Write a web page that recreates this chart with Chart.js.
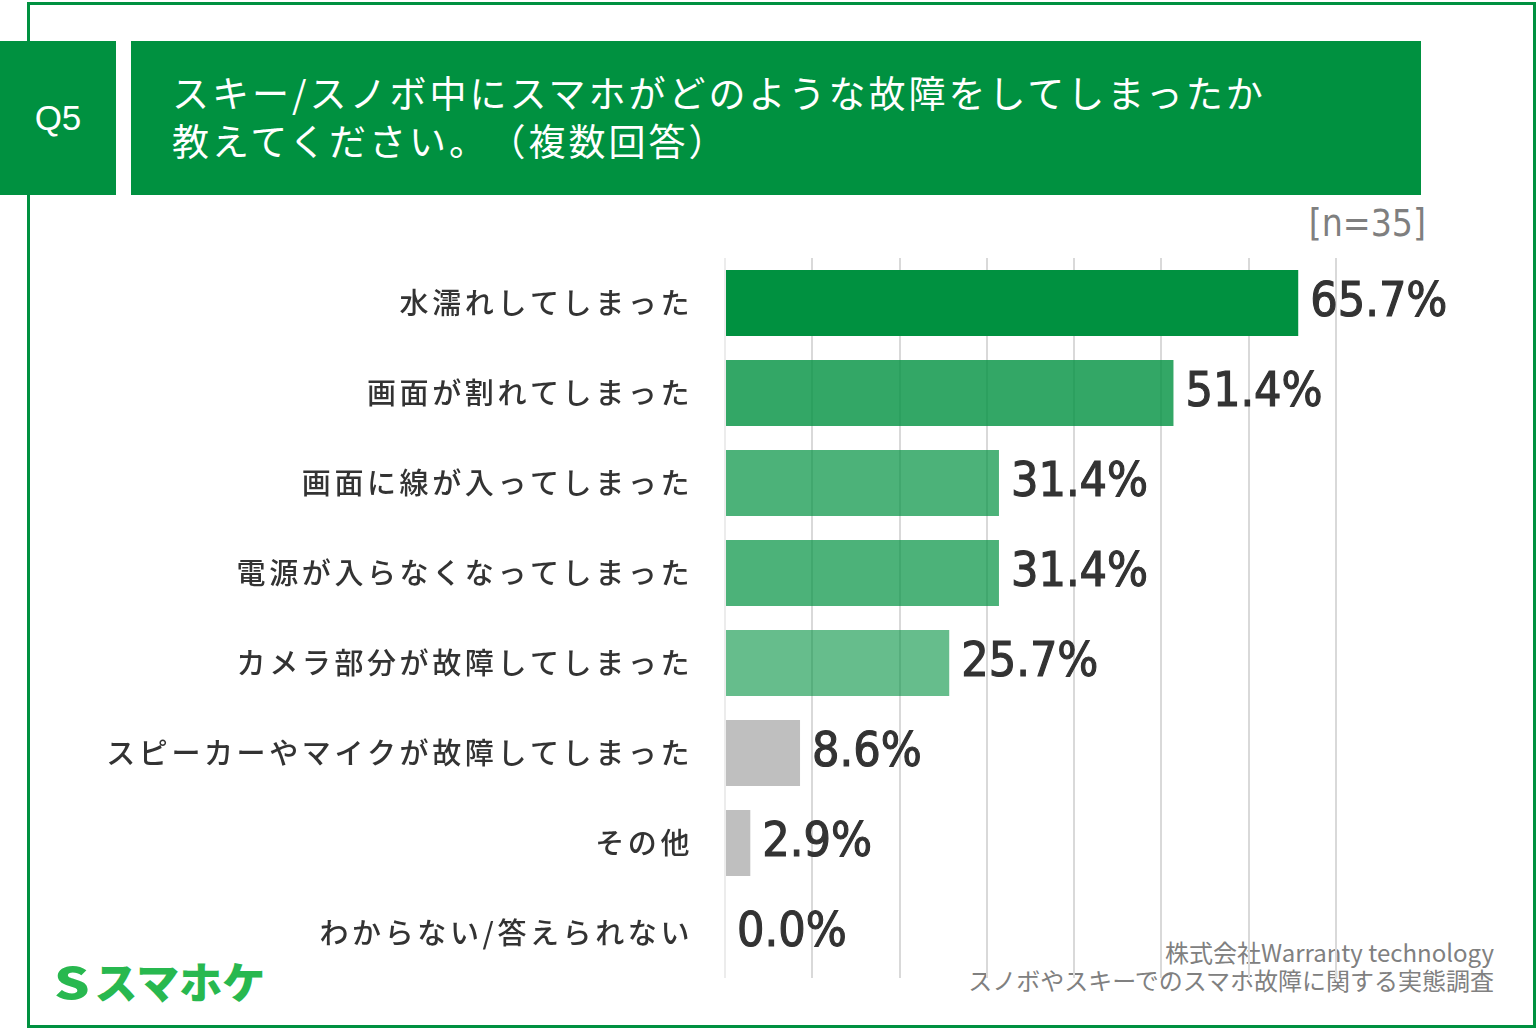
<!DOCTYPE html>
<html lang="ja">
<head>
<meta charset="utf-8">
<script src="https://cdn.jsdelivr.net/npm/chart.js@4"></script>
<style>
  html, body { margin: 0; padding: 0; background: #fff; }
  body { width: 1538px; height: 1030px; position: relative; overflow: hidden; font-family: "Noto Sans CJK JP", sans-serif; }
  #frame { position: absolute; left: 27px; top: 2px; width: 1509px; height: 1026px; box-sizing: border-box; border: 3px solid #009140; }
  #q { position: absolute; left: 0; top: 41px; width: 116px; height: 154px; background: #009140; color: #fff;
       font: 35px "Liberation Sans", Arial, sans-serif; display: flex; align-items: center; justify-content: center; }
  #title { position: absolute; left: 131px; top: 41px; width: 1290px; height: 154px; background: #009140; }
  #title div { position: absolute; left: 41px; color: #fff; font-size: 37px; letter-spacing: 3px; line-height: 48px; white-space: nowrap; }
  #n { position: absolute; right: 112px; top: 198px; color: #7f7f7f; font: 37px "DejaVu Sans Condensed", sans-serif; line-height: 52px; }
  #src { position: absolute; right: 44px; top: 938px; color: #808080; font-size: 24px; line-height: 28px; text-align: right; white-space: nowrap; }
  #logo { position: absolute; left: 54px; top: 950px; color: #28b84f; font-size: 43px; font-weight: 900; line-height: 60px; white-space: nowrap; }
  #logo span { display: inline-block; transform: scaleX(1.3); transform-origin: left center; margin-right: 13px; }
  canvas { position: absolute; left: 0; top: 0; }
</style>
</head>
<body>
<div id="frame"></div>
<div id="q">Q5</div>
<div id="title">
  <div style="top:27px">スキー/スノボ中にスマホがどのような故障をしてしまったか</div>
  <div style="top:75px">教えてください。<span style="margin-left:18px">（複数回答）</span></div>
</div>
<div id="n">[n=35]</div>
<div id="src">株式会社Warranty technology<br>スノボやスキーでのスマホ故障に関する実態調査</div>
<div id="logo"><span>S</span>スマホケ</div>
<canvas id="c" width="1538" height="1030" style="width:1538px;height:1030px"></canvas>
<script>
const categories = [
  '水濡れしてしまった',
  '画面が割れてしまった',
  '画面に線が入ってしまった',
  '電源が入らなくなってしまった',
  'カメラ部分が故障してしまった',
  'スピーカーやマイクが故障してしまった',
  'その他',
  'わからない/答えられない'
];
const values = [65.7, 51.4, 31.4, 31.4, 25.7, 8.6, 2.9, 0.0];
const barColors = [
  '#009140',
  'rgba(0,145,64,0.8)',
  'rgba(0,145,64,0.7)',
  'rgba(0,145,64,0.7)',
  'rgba(0,145,64,0.6)',
  '#bfbfbf',
  '#bfbfbf',
  '#bfbfbf'
];

// value labels next to the bars
const valueLabels = {
  id: 'valueLabels',
  beforeDraw(chart) {
    chart.ctx.letterSpacing = '3.6px';
  },
  afterDatasetsDraw(chart) {
    const ctx = chart.ctx;
    ctx.save();
    ctx.letterSpacing = '0px';
    ctx.font = '48px "DejaVu Sans Condensed", sans-serif';
    ctx.fillStyle = '#333333';
    ctx.strokeStyle = '#333333';
    ctx.lineWidth = 1.1;
    ctx.textAlign = 'left';
    ctx.textBaseline = 'middle';
    chart.getDatasetMeta(0).data.forEach((bar, i) => {
      const t = values[i].toFixed(1) + '%';
      ctx.fillText(t, bar.x + 12, bar.y + 1);
      ctx.strokeText(t, bar.x + 12, bar.y + 1);
    });
    ctx.restore();
  },
  afterDraw(chart) {
    chart.ctx.letterSpacing = '0px';
  }
};

new Chart(document.getElementById('c'), {
  type: 'bar',
  data: {
    labels: categories,
    datasets: [{
      data: values,
      backgroundColor: barColors,
      borderWidth: 0,
      categoryPercentage: 1,
      barPercentage: 0.733
    }]
  },
  options: {
    indexAxis: 'y',
    responsive: false,
    animation: false,
    layout: { padding: { left: 0, right: 115, top: 258, bottom: 52 } },
    plugins: { legend: { display: false }, tooltip: { enabled: false } },
    scales: {
      x: {
        min: 0, max: 80,
        ticks: { display: false, stepSize: 10 },
        border: { display: false },
        grid: {
          drawTicks: false,
          lineWidth: 2,
          color: c => c.tick.value === 80 ? 'rgba(0,0,0,0)' : (c.tick.value === 0 ? '#ececec' : '#d9d9d9')
        },
        afterFit: s => { s.height = 0; }
      },
      y: {
        border: { display: false },
        grid: { display: false, drawTicks: false },
        ticks: {
          padding: 32,
          color: '#333333',
          font: { family: '"Noto Sans CJK JP", sans-serif', size: 29, weight: 500 }
        },
        afterFit: s => { s.width = 725; }
      }
    }
  },
  plugins: [valueLabels]
});
</script>
</body>
</html>
